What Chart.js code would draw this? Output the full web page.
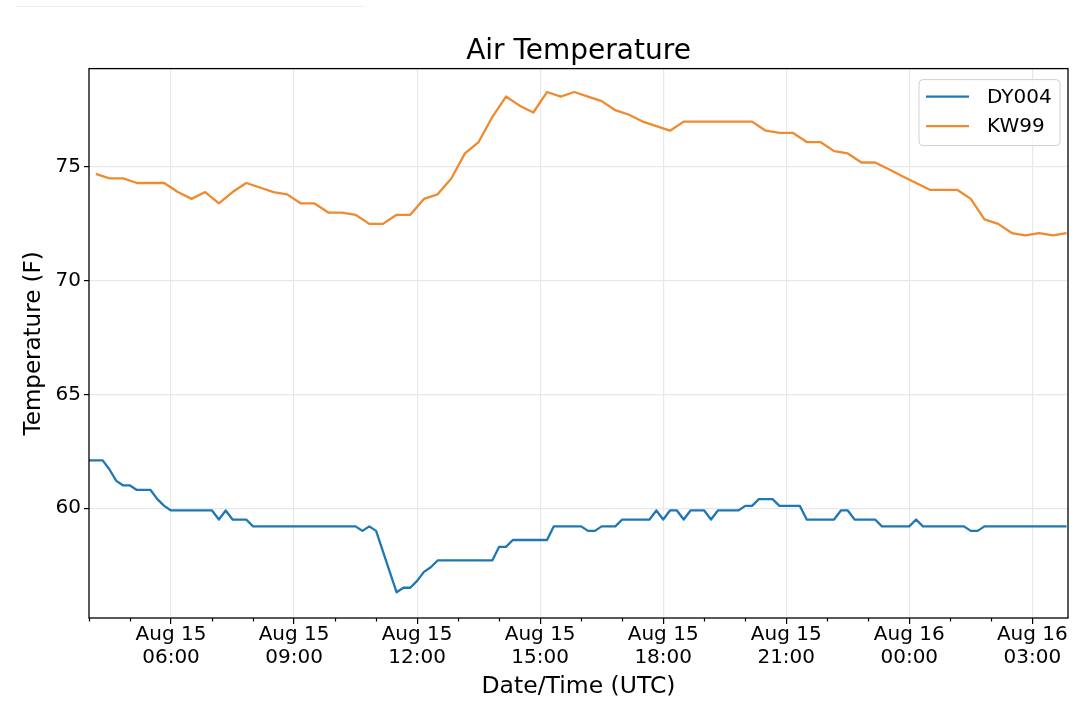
<!DOCTYPE html>
<html>
<head>
<meta charset="utf-8">
<script src="https://cdn.jsdelivr.net/npm/chart.js@4.4.1/dist/chart.umd.min.js"></script>
<style>
html, body { margin: 0; padding: 0; background: #ffffff; }
#wrap { position: relative; width: 1080px; height: 710px; }
#topline { position: absolute; left: 15px; top: 6px; width: 350px; height: 1px; background: #efefef; }
canvas { display: block; }
</style>
</head>
<body>
<div id="wrap">
  <div id="topline"></div>
  <canvas id="c" width="1080" height="710"></canvas>
</div>
<script>
// ---------------- data ----------------
const seriesNames = ['DY004', 'KW99'];
const seriesColors = ['#1f77b4', '#f08a2e'];

// DY004: one reading every 10 minutes starting Aug 15 04:00 (hours since Aug 15 00:00 UTC)
const dyStartHour = 4.0;
const dyStepMinutes = 10;
const dyValues = [
  62.1, 62.1, 62.1, 61.7, 61.2, 61.0, 61.0, 60.8, 60.8, 60.8,
  60.4, 60.1, 59.9, 59.9, 59.9, 59.9, 59.9, 59.9, 59.9, 59.5,
  59.9, 59.5, 59.5, 59.5, 59.2, 59.2, 59.2, 59.2, 59.2, 59.2,
  59.2, 59.2, 59.2, 59.2, 59.2, 59.2, 59.2, 59.2, 59.2, 59.2,
  59.0, 59.2, 59.0, 58.1, 57.2, 56.3, 56.5, 56.5, 56.8, 57.2,
  57.4, 57.7, 57.7, 57.7, 57.7, 57.7, 57.7, 57.7, 57.7, 57.7,
  58.3, 58.3, 58.6, 58.6, 58.6, 58.6, 58.6, 58.6, 59.2, 59.2,
  59.2, 59.2, 59.2, 59.0, 59.0, 59.2, 59.2, 59.2, 59.5, 59.5,
  59.5, 59.5, 59.5, 59.9, 59.5, 59.9, 59.9, 59.5, 59.9, 59.9,
  59.9, 59.5, 59.9, 59.9, 59.9, 59.9, 60.1, 60.1, 60.4, 60.4,
  60.4, 60.1, 60.1, 60.1, 60.1, 59.5, 59.5, 59.5, 59.5, 59.5,
  59.9, 59.9, 59.5, 59.5, 59.5, 59.5, 59.2, 59.2, 59.2, 59.2,
  59.2, 59.5, 59.2, 59.2, 59.2, 59.2, 59.2, 59.2, 59.2, 59.0,
  59.0, 59.2, 59.2, 59.2, 59.2, 59.2, 59.2, 59.2, 59.2, 59.2,
  59.2, 59.2, 59.2, 59.2
];

// KW99: one reading every 20 minutes starting Aug 15 04:10
const kwStartHour = 4 + 10 / 60;
const kwStepMinutes = 20;
const kwValues = [
  74.7, 74.5, 74.5, 74.3, 74.3, 74.3, 73.9, 73.6, 73.9, 73.4,
  73.9, 74.3, 74.1, 73.9, 73.8, 73.4, 73.4, 73.0, 73.0, 72.9,
  72.5, 72.5, 72.9, 72.9, 73.6, 73.8, 74.5, 75.6, 76.1, 77.2,
  78.1, 77.7, 77.4, 78.3, 78.1, 78.3, 78.1, 77.9, 77.5, 77.3,
  77.0, 76.8, 76.6, 77.0, 77.0, 77.0, 77.0, 77.0, 77.0, 76.6,
  76.5, 76.5, 76.1, 76.1, 75.7, 75.6, 75.2, 75.2, 74.9, 74.6,
  74.3, 74.0, 74.0, 74.0, 73.6, 72.7, 72.5, 72.1, 72.0, 72.1,
  72.0, 72.1
];

// axis ranges and tick labels
const xMinHour = 4.0;
const xMaxHour = 27.87;
const yMinValue = 55.17;
const yMaxValue = 79.33;
const yTickStep = 5;
const majorTickHours = [6, 9, 12, 15, 18, 21, 24, 27];
const majorTickLabels = [
  ['Aug 15', '06:00'], ['Aug 15', '09:00'], ['Aug 15', '12:00'], ['Aug 15', '15:00'],
  ['Aug 15', '18:00'], ['Aug 15', '21:00'], ['Aug 16', '00:00'], ['Aug 16', '03:00']
];
const titleText = 'Air Temperature';
const xTitleText = 'Date/Time (UTC)';
const yTitleText = 'Temperature (F)';

// ---------------- chart ----------------
const FONT = "'DejaVu Sans', 'Liberation Sans', sans-serif";
Chart.defaults.font.family = FONT;
Chart.defaults.color = '#000000';

const dyPoints = dyValues.map((v, i) => ({ x: dyStartHour + i * dyStepMinutes / 60, y: v }));
const kwPoints = kwValues.map((v, i) => ({ x: kwStartHour + i * kwStepMinutes / 60, y: v }));

const isMajor = (v) => majorTickHours.some(h => Math.abs(h - v) < 1e-6);

const framePlugin = {
  id: 'mplFrame',
  afterDraw(chart) {
    const ctx = chart.ctx;
    const { left, top, right, bottom } = chart.chartArea;
    const xs = chart.scales.x;
    ctx.save();
    // minor tick marks
    ctx.strokeStyle = '#000000';
    ctx.lineWidth = 1.2;
    xs.ticks.forEach(t => {
      if (isMajor(t.value)) return;
      const px = Math.round(xs.getPixelForValue(t.value)) + 0.5;
      ctx.beginPath();
      ctx.moveTo(px, bottom);
      ctx.lineTo(px, bottom + 3.5);
      ctx.stroke();
    });
    // axes box
    ctx.lineWidth = 1.3;
    ctx.strokeRect(left, top, right - left, bottom - top);

    // legend
    const lw = 141, lh = 66;
    const lx = right - 8 - lw, ly = top + 11;
    const r = 4;
    ctx.beginPath();
    ctx.moveTo(lx + r, ly);
    ctx.lineTo(lx + lw - r, ly);
    ctx.quadraticCurveTo(lx + lw, ly, lx + lw, ly + r);
    ctx.lineTo(lx + lw, ly + lh - r);
    ctx.quadraticCurveTo(lx + lw, ly + lh, lx + lw - r, ly + lh);
    ctx.lineTo(lx + r, ly + lh);
    ctx.quadraticCurveTo(lx, ly + lh, lx, ly + lh - r);
    ctx.lineTo(lx, ly + r);
    ctx.quadraticCurveTo(lx, ly, lx + r, ly);
    ctx.closePath();
    ctx.fillStyle = 'rgba(255,255,255,0.8)';
    ctx.fill();
    ctx.strokeStyle = '#d0d0d0';
    ctx.lineWidth = 1;
    ctx.stroke();

    ctx.font = '20px ' + FONT;
    ctx.textBaseline = 'middle';
    ctx.textAlign = 'left';
    chart.data.datasets.forEach((ds, i) => {
      const cy = ly + 17 + i * 29.5;
      ctx.strokeStyle = ds.borderColor;
      ctx.lineWidth = 2.3;
      ctx.beginPath();
      ctx.moveTo(lx + 7, cy);
      ctx.lineTo(lx + 50, cy);
      ctx.stroke();
      ctx.fillStyle = '#000000';
      ctx.fillText(ds.label, lx + 68, cy + 1);
    });
    ctx.restore();
  }
};

new Chart(document.getElementById('c'), {
  type: 'line',
  data: {
    datasets: [
      { label: seriesNames[0], data: dyPoints, borderColor: seriesColors[0], backgroundColor: seriesColors[0],
        borderWidth: 2.3, pointRadius: 0, tension: 0, fill: false, borderJoinStyle: 'round' },
      { label: seriesNames[1], data: kwPoints, borderColor: seriesColors[1], backgroundColor: seriesColors[1],
        borderWidth: 2.3, pointRadius: 0, tension: 0, fill: false, borderJoinStyle: 'round' }
    ]
  },
  options: {
    responsive: false,
    animation: false,
    parsing: true,
    layout: { padding: { left: 0, right: 12, top: 0, bottom: 0 } },
    plugins: {
      legend: { display: false },
      tooltip: { enabled: false },
      title: {
        display: true, text: titleText, fullSize: false, color: '#000000',
        font: { family: FONT, size: 28, weight: 'normal', lineHeight: 1.2 },
        padding: { top: 35, bottom: 0 }
      }
    },
    scales: {
      x: {
        type: 'linear', min: xMinHour, max: xMaxHour,
        border: { display: false },
        grid: {
          color: (c) => (c.tick && isMajor(c.tick.value)) ? '#e8e8e8' : 'rgba(0,0,0,0)',
          lineWidth: 1.2, tickLength: 6, tickWidth: 1.2,
          tickColor: (c) => (c.tick && isMajor(c.tick.value)) ? '#000000' : 'rgba(0,0,0,0)'
        },
        ticks: {
          stepSize: 1, includeBounds: false, autoSkip: false, maxRotation: 0, minRotation: 0,
          padding: -1, color: '#000000',
          font: { family: FONT, size: 20, lineHeight: 1.165 },
          callback: (v) => {
            const i = majorTickHours.findIndex(h => Math.abs(h - v) < 1e-6);
            return i >= 0 ? majorTickLabels[i] : '';
          }
        },
        title: {
          display: true, text: xTitleText, color: '#000000',
          font: { family: FONT, size: 23.5, lineHeight: 1.2 },
          padding: { top: 0, bottom: 9 }
        },
        afterFit: (s) => { s.height = 92; }
      },
      y: {
        type: 'linear', min: yMinValue, max: yMaxValue,
        border: { display: false },
        grid: { color: '#e8e8e8', lineWidth: 1.2, tickLength: 5, tickWidth: 1.2, tickColor: '#000000' },
        ticks: {
          stepSize: yTickStep, includeBounds: false, padding: 3, color: '#000000',
          font: { family: FONT, size: 20 }
        },
        title: {
          display: true, text: yTitleText, color: '#000000',
          font: { family: FONT, size: 23, lineHeight: 1.2 },
          padding: { top: 20, bottom: 0 }
        },
        afterFit: (s) => { s.width = 89; }
      }
    }
  },
  plugins: [framePlugin]
});
</script>
</body>
</html>
